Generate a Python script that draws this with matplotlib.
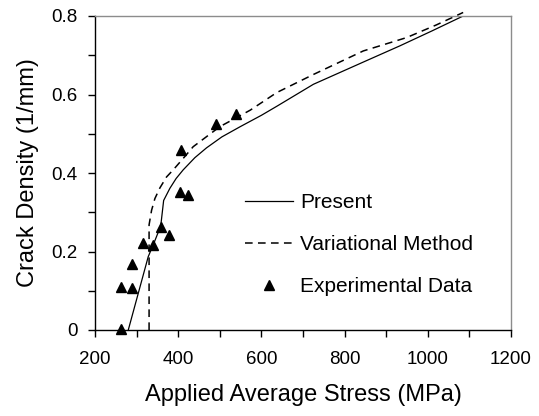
import matplotlib
matplotlib.use("Agg")
import matplotlib.pyplot as plt
from matplotlib.ticker import MultipleLocator

plt.rcParams['font.family'] = ['Liberation Sans', 'DejaVu Sans']

# Present model (solid)
present_x = [280, 328, 340, 358, 365, 380, 395, 412, 440, 468, 505, 549, 600, 637, 725, 850, 933, 1010, 1085]
present_y = [0.0, 0.187, 0.217, 0.265, 0.330, 0.361, 0.386, 0.408, 0.439, 0.464, 0.492, 0.518, 0.547, 0.570, 0.626, 0.685, 0.724, 0.762, 0.800]

# Variational method (dashed)
variational_x = [330, 330, 336, 344, 356, 372, 388, 416, 436, 500, 573, 637, 725, 845, 949, 1020, 1085]
variational_y = [0.0, 0.268, 0.305, 0.335, 0.362, 0.390, 0.408, 0.442, 0.467, 0.518, 0.560, 0.605, 0.651, 0.711, 0.745, 0.777, 0.809]

# Experimental data
exp_x = [262, 262, 290, 290, 315, 340, 358, 377, 405, 423, 406, 492, 539]
exp_y = [0.003, 0.109, 0.106, 0.167, 0.221, 0.217, 0.262, 0.241, 0.351, 0.345, 0.459, 0.524, 0.551]

fig = plt.figure(figsize=(5.39, 4.16), dpi=100)
ax = fig.add_axes([95/539, 1-330/416, (511-95)/539, (330-16)/416])

ax.plot(present_x, present_y, color='black', lw=0.9, label='Present')
ax.plot(variational_x, variational_y, color='black', lw=1.1, ls=(0, (5, 3.5)),
        label='Variational Method', clip_on=False)
ax.plot(exp_x, exp_y, ls='none', marker='^', color='black', markersize=7,
        label='Experimental Data', clip_on=False)

ax.set_xlim(200, 1200)
ax.set_ylim(0, 0.8)
ax.xaxis.set_major_locator(MultipleLocator(200))
ax.xaxis.set_minor_locator(MultipleLocator(100))
ax.yaxis.set_minor_locator(MultipleLocator(0.1))
ax.set_yticks([0, 0.2, 0.4, 0.6, 0.8])
ax.set_yticklabels(['0', '0.2', '0.4', '0.6', '0.8'])
ax.tick_params(axis='both', which='both', direction='out', length=5, width=1,
               labelsize=13.5, colors='black')
ax.tick_params(axis='x', which='major', pad=10)
ax.tick_params(axis='y', which='major', pad=7.5)

for s in ['top', 'right']:
    ax.spines[s].set_color('#8c8c8c')
    ax.spines[s].set_linewidth(1.0)
for s in ['left', 'bottom']:
    ax.spines[s].set_color('black')
    ax.spines[s].set_linewidth(1.0)

ax.set_xlabel('Applied Average Stress (MPa)', fontsize=17, labelpad=12)
ax.set_ylabel('Crack Density (1/mm)', fontsize=17, labelpad=9)

leg = ax.legend(loc='upper left', bbox_to_anchor=(245/539, 1-193/416),
                bbox_transform=fig.transFigure, frameon=False, fontsize=15,
                handlelength=2.3, handletextpad=0.33, labelspacing=1.1,
                borderpad=0, borderaxespad=0, markerscale=1.0)

fig.savefig('out.png', dpi=100)
